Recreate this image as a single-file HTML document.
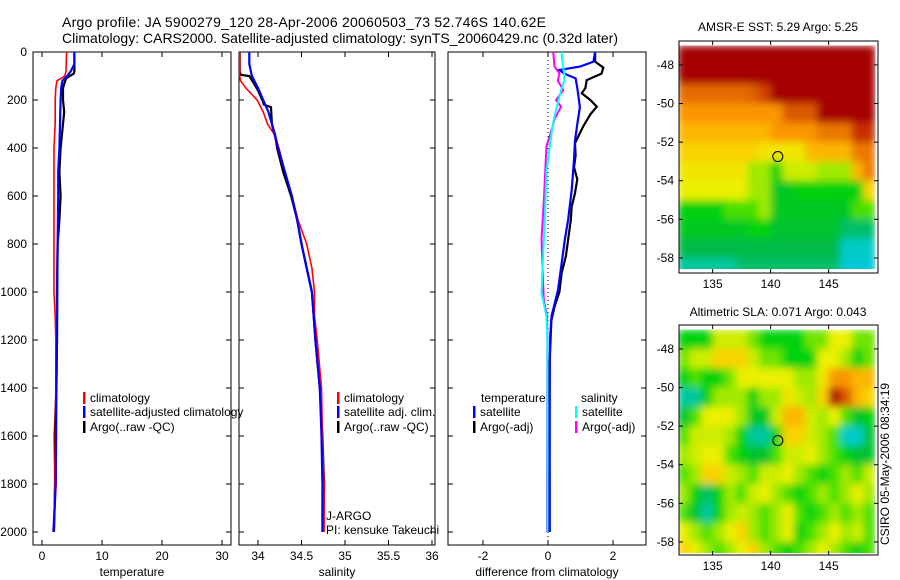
<!DOCTYPE html>
<html><head><meta charset="utf-8"><style>
body{margin:0;background:#fff}
svg{display:block;font-family:"Liberation Sans",sans-serif;font-size:12px}
</style></head><body>
<svg id="fig" width="900" height="580" viewBox="0 0 900 580" xmlns="http://www.w3.org/2000/svg">
<defs>
<filter id="blur" x="0" y="0" width="1" height="1" filterUnits="objectBoundingBox"><feGaussianBlur stdDeviation="4" edgeMode="duplicate"/></filter>
</defs>
<rect width="900" height="580" fill="#fff"/>
<text x="62" y="27" font-size="14" textLength="484">Argo profile: JA 5900279_120 28-Apr-2006 20060503_73 52.746S 140.62E</text>
<text x="62" y="43" font-size="14" textLength="556">Climatology: CARS2000. Satellite-adjusted climatology: synTS_20060429.nc (0.32d later)</text>
<text x="778" y="31" text-anchor="middle">AMSR-E SST: 5.29 Argo: 5.25</text>
<text x="778" y="316" text-anchor="middle">Altimetric SLA: 0.071 Argo: 0.043</text>
<text transform="translate(889,545) rotate(-90)">CSIRO 05-May-2006 08:34:19</text>
<g id="g"></g>
</svg>
<script>
// ---- profile data ----
const tClimDepth=[0,80,100,120,150,200,300,400,600,800,1000,1100,1200,1400,1600,1800,2000];
const tClim=[4.1,4.0,3.8,2.5,2.3,2.2,2.2,2.0,2.0,2.0,2.0,2.2,2.3,2.3,2.2,2.1,2.0];
const tSatDepth=[0,50,80,100,120,150,200,300,400,500,600,800,1000,1200,1400,1600,1800,2000];
const tSat=[5.4,5.4,4.8,4.2,3.4,3.2,3.1,3.0,2.9,2.7,2.7,2.6,2.55,2.5,2.4,2.35,2.3,1.9];
const tArgoDepth=[0,80,90,110,150,200,250,300,400,500,600,700,800,1000,1200,1400,1600,1800,2000];
const tArgo=[5.4,5.4,5.3,4.0,3.5,3.5,3.7,3.5,3.1,2.9,3.1,2.9,2.6,2.5,2.5,2.4,2.1,2.2,2.0];
const sClimDepth=[0,100,120,150,200,250,300,350,400,500,600,700,800,900,1000,1100,1200,1400,1600,1800,2000];
const sClim=[33.79,33.79,33.8,33.86,33.99,34.06,34.11,34.2,34.24,34.31,34.39,34.46,34.56,34.62,34.65,34.65,34.68,34.73,34.74,34.76,34.76];
const sSatDepth=[0,50,100,150,200,250,300,400,500,600,700,800,900,1000,1100,1200,1400,1600,1800,2000];
const sSat=[33.9,33.9,33.93,34.0,34.06,34.12,34.16,34.23,34.31,34.39,34.45,34.5,34.56,34.62,34.64,34.66,34.71,34.73,34.74,34.74];
const sArgoDepth=[0,80,95,100,130,160,200,220,230,300,350,400,500,600,700,800,900,1000,1200,1400,1600,1800,2000];
const sArgo=[33.79,33.79,33.8,33.9,33.95,34.0,34.05,34.07,34.15,34.16,34.2,34.22,34.29,34.38,34.45,34.5,34.56,34.62,34.66,34.71,34.74,34.76,34.75];
const dTSatDepth=[0,40,60,75,90,110,150,230,300,370,450,575,700,780,900,990,1100,1200,1500,2000];
const dTSat=[1.45,1.4,1.0,0.35,0.5,0.85,0.9,0.98,0.9,0.83,0.8,0.73,0.62,0.52,0.4,0.31,0.11,0.06,0.05,0.05];
const dTArgoDepth=[0,40,65,90,117,150,172,200,228,260,311,380,430,480,530,588,644,700,783,850,922,1000,1061,1120,1300,2000];
const dTArgo=[1.45,1.45,1.7,1.65,1.19,1.15,1.04,1.3,1.5,1.3,1.08,0.83,0.85,0.8,0.9,0.83,0.73,0.7,0.62,0.55,0.42,0.35,0.2,0.1,0.05,0.05];
const dSSatDepth=[0,50,89,120,160,228,300,367,500,700,850,1004,1100,1200,1600,2000];
const dSSat=[0.42,0.45,0.5,0.5,0.4,0.27,0.15,0.08,-0.05,-0.1,-0.15,-0.2,-0.05,-0.02,-0.02,-0.02];
const dSArgoDepth=[0,60,89,120,158,200,228,280,325,394,600,783,1033,1100,1200,1800,2000];
const dSArgo=[0.16,0.2,0.35,0.3,0.47,0.25,0.4,0.2,0.11,-0.05,-0.12,-0.2,-0.13,-0.03,-0.02,-0.03,-0.03];
const depthTicks=[0,200,400,600,800,1000,1200,1400,1600,1800,2000];
const tTicks=[0,10,20,30];
const sTicks=[34,34.5,35,35.5,36];
const dTicks=[-2,0,2];
// ---- map data (1 degree cells, lon 132..149, lat -47..-59) ----
const mapLon0=132, mapLat0=-47;
const sstGrid=[
[1,1,1,1,1,1,1,1,1,1,1,1,1,1,1,1,1],
[1,1,1,1,1,1,1,1,1,1,1,1,1,1,1,1,1],
[.82,.82,.82,.82,.82,.82,.84,.88,1,1,1,1,1,1,1,1,1],
[.75,.75,.75,.75,.75,.75,.75,.75,.75,.85,.85,.85,1,1,1,1,1],
[.7,.7,.7,.7,.7,.7,.7,.7,.75,.75,.75,.75,.8,.8,.8,.9,.9],
[.65,.65,.65,.65,.65,.65,.65,.62,.62,.62,.62,.7,.7,.7,.7,.8,.8],
[.62,.62,.62,.62,.62,.62,.55,.55,.45,.58,.58,.58,.55,.55,.55,.7,.8],
[.6,.6,.6,.6,.6,.6,.55,.55,.43,.43,.45,.45,.45,.45,.45,.45,.65],
[.45,.45,.45,.45,.5,.5,.5,.55,.43,.43,.43,.43,.43,.43,.43,.5,.5],
[.43,.43,.43,.43,.43,.43,.45,.45,.42,.42,.42,.42,.42,.42,.38,.38,.38],
[.4,.4,.4,.4,.4,.4,.4,.4,.4,.4,.4,.4,.4,.4,.32,.32,.32],
[.35,.35,.35,.35,.35,.38,.38,.38,.38,.38,.38,.38,.38,.38,.3,.3,.3]];
const slaGrid=[
[.45,.45,.45,.58,.58,.58,.52,.45,.45,.45,.45,.52,.52,.6,.6,.52,.52],
[.52,.58,.58,.65,.65,.65,.58,.52,.52,.45,.45,.45,.6,.6,.55,.45,.52],
[.45,.5,.45,.45,.52,.6,.6,.6,.6,.6,.55,.55,.62,.75,.75,.7,.7],
[.35,.35,.45,.55,.55,.55,.45,.55,.55,.62,.58,.55,.65,.95,.85,.7,.65],
[.42,.5,.6,.6,.6,.55,.43,.43,.58,.7,.7,.58,.55,.6,.5,.42,.45],
[.5,.58,.58,.58,.55,.45,.35,.35,.45,.65,.65,.58,.55,.5,.32,.32,.42],
[.55,.58,.6,.6,.5,.45,.42,.42,.5,.58,.58,.6,.55,.5,.45,.42,.42],
[.5,.55,.65,.65,.58,.55,.5,.58,.58,.6,.55,.5,.45,.5,.55,.5,.58],
[.55,.45,.38,.45,.55,.5,.58,.6,.55,.5,.45,.5,.55,.5,.55,.6,.55],
[.5,.42,.35,.45,.55,.58,.55,.5,.55,.6,.5,.45,.5,.55,.5,.55,.5],
[.6,.55,.5,.55,.6,.65,.55,.5,.55,.6,.45,.5,.55,.6,.55,.58,.5],
[.65,.6,.55,.5,.55,.6,.65,.55,.5,.45,.5,.55,.6,.55,.5,.45,.5]];
const lonTicks=[135,140,145];
const latTicks=[-48,-50,-52,-54,-56,-58];
const floatLon=140.62, floatLat=-52.746;

const NS="http://www.w3.org/2000/svg";
const G=document.getElementById('g');
function mk(tag,at,parent){const e=document.createElementNS(NS,tag);for(const k in at)e.setAttribute(k,at[k]);(parent||G).appendChild(e);return e;}
const yD=d=>52+d*0.24;
const xT=v=>42+v*6.0;
const xS=v=>258+(v-34)*87;
const xDf=v=>548+v*32.5;
const panels=[{x0:33,x1:231,fx:xT,ticks:tTicks,label:'temperature',name:'temperature'},
 {x0:239,x1:435,fx:xS,ticks:sTicks,label:'salinity',name:'salinity'},
 {x0:448,x1:646,fx:xDf,ticks:dTicks,label:'difference from climatology',name:'difference'}];
panels.forEach((p,i)=>{
  const r=mk('rect',{x:p.x0,y:52,width:p.x1-p.x0,height:493,fill:'none',stroke:'#000','stroke-width':1});
  
  
  depthTicks.forEach(d=>{
    const y=yD(d);
    mk('line',{x1:p.x0,x2:p.x0+5,y1:y,y2:y,stroke:'#000'});
    mk('line',{x1:p.x1,x2:p.x1-5,y1:y,y2:y,stroke:'#000'});
    if(i===0){const t=mk('text',{x:27,y:y+4,'text-anchor':'end'});t.textContent=d;
      
      }
  });
  p.ticks.forEach(v=>{
    const x=p.fx(v);
    mk('line',{x1:x,x2:x,y1:545,y2:540,stroke:'#000'});
    mk('line',{x1:x,x2:x,y1:52,y2:57,stroke:'#000'});
    const t=mk('text',{x:x,y:560,'text-anchor':'middle'});t.textContent=v;
    
    
  });
  const xl=mk('text',{x:(p.x0+p.x1)/2,y:576,'text-anchor':'middle'});xl.textContent=p.label;
  
  
});
const zl=mk('line',{x1:xDf(0),x2:xDf(0),y1:52,y2:545,stroke:'#000','stroke-dasharray':'1,3'});


function series(depths,vals,fx,color,w,name){
  const pts=depths.map((d,i)=>fx(vals[i]).toFixed(1)+','+yD(d).toFixed(1)).join(' ');
  const e=mk('polyline',{points:pts,fill:'none',stroke:color,'stroke-width':w});
  
  
}
series(tArgoDepth,tArgo,xT,'#000',2.2,'temp-argo-line');
series(tClimDepth,tClim,xT,'#f00',1.6,'temp-climatology-line');
series(tSatDepth,tSat,xT,'#00f',2.2,'temp-satellite-line');
series(sArgoDepth,sArgo,xS,'#000',2.2,'sal-argo-line');
series(sClimDepth,sClim,xS,'#f00',1.6,'sal-climatology-line');
series(sSatDepth,sSat,xS,'#00f',2.2,'sal-satellite-line');
series(dTArgoDepth,dTArgo,xDf,'#000',2.2,'diff-temp-argo-line');
series(dTSatDepth,dTSat,xDf,'#00f',2.2,'diff-temp-satellite-line');
series(dSArgoDepth,dSArgo,xDf,'#f0f',2,'diff-sal-argo-line');
series(dSSatDepth,dSSat,xDf,'#0ff',2,'diff-sal-satellite-line');
function legend(x,y,color,label,name){
  if(color){const b=mk('rect',{x:x,y:y-6,width:2.5,height:12,fill:color});
    
    }
  const t=mk('text',{x:x+7,y:y+4});t.textContent=label;
  
  
}
legend(83,398,'#f00','climatology','legend-temp-climatology');
legend(83,412,'#00f','satellite-adjusted climatology','legend-temp-satellite');
legend(83,427,'#000','Argo(..raw -QC)','legend-temp-argo');
legend(337,398,'#f00','climatology','legend-sal-climatology');
legend(337,412,'#00f','satellite adj. clim.','legend-sal-satellite');
legend(337,427,'#000','Argo(..raw -QC)','legend-sal-argo');
legend(474,398,null,'temperature','legend-diff-temp-header');
legend(473,412,'#00f','satellite','legend-diff-temp-satellite');
legend(473,427,'#000','Argo(-adj)','legend-diff-temp-argo');
legend(574,398,null,'salinity','legend-diff-sal-header');
legend(575,412,'#0ff','satellite','legend-diff-sal-satellite');
legend(575,427,'#f0f','Argo(-adj)','legend-diff-sal-argo');
legend(319,516,null,'J-ARGO','pi-institution');
legend(319,530,null,'PI: kensuke Takeuchi','pi-name');
const stops=[[0.25,[0,190,255]],[0.33,[0,205,190]],[0.4,[0,185,70]],[0.46,[0,215,0]],[0.53,[130,230,0]],[0.6,[235,240,0]],[0.67,[255,200,0]],[0.75,[250,150,0]],[0.85,[220,90,0]],[0.95,[175,0,0]],[1,[165,0,0]]];
function cmap(v){
  if(v<=stops[0][0])return 'rgb('+stops[0][1]+')';
  for(let i=1;i<stops.length;i++){if(v<=stops[i][0]){const a=stops[i-1],b=stops[i],f=(v-a[0])/(b[0]-a[0]);
    return 'rgb('+a[1].map((c,k)=>Math.round(c+(b[1][k]-c)*f)).join(',')+')';}}
  return 'rgb('+stops[stops.length-1][1]+')';
}
function drawMap(grid,top,dataBottom,bottom,id,name){
  const lx=v=>679+(v-132.1)*11.6;
  const ly=v=>top+(-46.76-v)*19.3;
  const defs=mk('defs',{});
  const cp=mk('clipPath',{id:id},defs);
  mk('rect',{x:679,y:top,width:199,height:dataBottom-top},cp);
  const outer=mk('g',{'clip-path':'url(#'+id+')'});
  const g=mk('g',{filter:'url(#blur)'},outer);
  
  
  grid.forEach((row,r)=>row.forEach((v,c)=>{
    const x=lx(mapLon0+c),y=ly(mapLat0-r);
    const cell=mk('rect',{x:x.toFixed(1),y:y.toFixed(1),width:12.1,height:19.8,fill:cmap(v)},g);
    
    
  }));
  const fr=mk('rect',{x:679,y:top,width:199,height:bottom-top,fill:'none',stroke:'#000'});
  
  
  lonTicks.forEach(v=>{const x=lx(v);
    mk('line',{x1:x,x2:x,y1:bottom,y2:bottom-4,stroke:'#000'});mk('line',{x1:x,x2:x,y1:top,y2:top+4,stroke:'#000'});
    const t=mk('text',{x:x,y:bottom+15,'text-anchor':'middle'});t.textContent=v;
    
    });
  latTicks.forEach(v=>{const y=ly(v);
    mk('line',{x1:679,x2:683,y1:y,y2:y,stroke:'#000'});mk('line',{x1:878,x2:874,y1:y,y2:y,stroke:'#000'});
    const t=mk('text',{x:674,y:y+4,'text-anchor':'end'});t.textContent=v;
    
    });
  const c=mk('circle',{cx:lx(floatLon),cy:ly(floatLat),r:5,fill:'none',stroke:'#000','stroke-width':1});
  
  
}
drawMap(sstGrid,41,269,273,'c1','sst-map');
drawMap(slaGrid,325,553,555,'c2','sla-map');
</script>
</body></html>
